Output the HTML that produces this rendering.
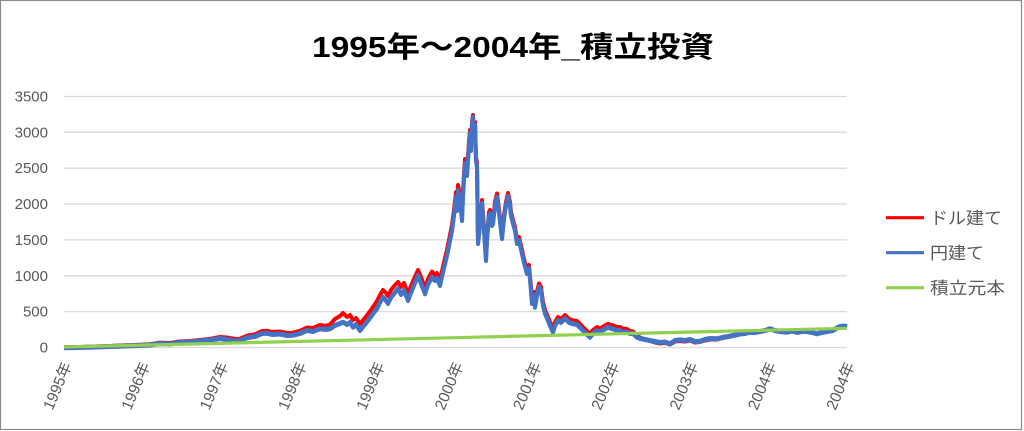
<!DOCTYPE html>
<html><head><meta charset="utf-8"><style>
html,body{margin:0;padding:0;background:#fff;}
svg{display:block;}
text{font-family:"Liberation Sans","Noto Sans CJK JP",sans-serif;}
</style></head><body>
<svg width="1024" height="431" viewBox="0 0 1024 431" xmlns="http://www.w3.org/2000/svg">
<rect x="0" y="0" width="1024" height="431" fill="#fff"/>
<rect x="0.5" y="0.5" width="1021" height="429" fill="none" stroke="#8c8c8c" stroke-width="1.2"/>
<text x="312" y="57" font-size="29" font-weight="bold" fill="#000" textLength="402" lengthAdjust="spacingAndGlyphs">1995年～2004年_積立投資</text>
<g stroke="#d9d9d9" stroke-width="1.3">
<line x1="64" y1="96.5" x2="847" y2="96.5"/>
<line x1="64" y1="132.3" x2="847" y2="132.3"/>
<line x1="64" y1="168.2" x2="847" y2="168.2"/>
<line x1="64" y1="204.1" x2="847" y2="204.1"/>
<line x1="64" y1="239.9" x2="847" y2="239.9"/>
<line x1="64" y1="275.8" x2="847" y2="275.8"/>
<line x1="64" y1="311.6" x2="847" y2="311.6"/>
<line x1="64" y1="347.5" x2="847" y2="347.5"/>
</g>
<g font-size="15" fill="#595959" text-anchor="end">
<text x="48" y="101.5">3500</text>
<text x="48" y="137.3">3000</text>
<text x="48" y="173.2">2500</text>
<text x="48" y="209.1">2000</text>
<text x="48" y="244.9">1500</text>
<text x="48" y="280.8">1000</text>
<text x="48" y="316.6">500</text>
<text x="48" y="352.5">0</text>
</g>
<g font-size="15.5" fill="#595959" text-anchor="end">
<text transform="translate(72,365) rotate(-67)">1995年</text>
<text transform="translate(150.3,365) rotate(-67)">1996年</text>
<text transform="translate(228.6,365) rotate(-67)">1997年</text>
<text transform="translate(306.9,365) rotate(-67)">1998年</text>
<text transform="translate(385.2,365) rotate(-67)">1999年</text>
<text transform="translate(463.5,365) rotate(-67)">2000年</text>
<text transform="translate(541.8,365) rotate(-67)">2001年</text>
<text transform="translate(620.1,365) rotate(-67)">2002年</text>
<text transform="translate(698.4,365) rotate(-67)">2003年</text>
<text transform="translate(776.7,365) rotate(-67)">2004年</text>
<text transform="translate(855,365) rotate(-67)">2004年</text>
</g>
<polyline fill="none" stroke="#ff0000" stroke-width="4" stroke-linejoin="round" points="64,347.3 80,347 95,346.5 110,346 125,345.3 140,344.7 150,344.2 160,342.6 170,343 180,341.5 190,341 200,340 210,338.8 220,337 227,337.5 235,339 240,338.7 248,335.3 255,334.3 262,331 267,330.7 272,332 280,331.5 287,333 293,332.7 300,330.8 307,327.5 313,328 320,325 326,325.8 330,324.5 335,319 340,316 343,313 347,317 350,315 353,320 356,318 360,324 364,319 368,314 373,307 377,301 380,295 383,290 386,293 388,296 391,290 395,285 398,282 401,287 404,283 408,294 411,286 414,279 418,270 421,277 425,288 428,279 432,271.5 435,275 437,273 440,280 442,271 445,258 447,250 450,235 452,225 454,210 456,192 457,205 458,185 460,195 462,215 463,190 465,159 467,171 469,141 470,130 471,146 472,122 473,115 474,132 475,122 476,157 477,163 478,240 480,222 482,200 484,227 486,257 487,237 489,212 490,210 492,222 493,220 495,202 497,193.5 499,209 501,227 502,235 504,215 506,202 508,193 510,202 511,212 513,220 515,227 517,240 519,237 522,250 524,259 527,270 529,265 531,287 532,300 534,292 535,303.5 537,292 539,283.5 541,287 543,302 545,310 548,317 550,322 553,328.7 555,322 558,317 561,319 565,315 569,319 573,320.3 577,321 580,324 583,327 586,330 590,334 593,330 597,327 600,328.7 604,326 608,323.7 611,325 613,325.3 617,327 620,327 623,328.7 627,329 630,331 633,331.5 637,335.5 640,337.5 645,339.5 650,341 655,342.5 660,343.5 665,343 670,344.5 675,341.5 680,341 685,341.5 690,340.5 695,342.5 700,342 705,340.5 710,339.5 717,339.5 722,338.2 728,337 733,336 740,334.3 745,333.8 750,332.5 755,332.7 760,331.7 765,330.7 770,329 775,330.7 780,331.6 787,332.2 792,331 797,332.4 802,331.4 807,331.4 812,332.4 817,333.6 822,332.3 827,331.3 833,330.2 836,328.2 840,326.2 844,325.7 847,326.2"/>
<g fill="none" stroke="#4472c4" stroke-width="4" stroke-linejoin="round">
<polyline id="bl" points="64,347.3 80,347 95,346.5 110,346 125,345.5 140,345 150,344.5 160,343 170,343.5 180,342 190,341.5 200,340.5 210,339.5 220,338 227,339 235,340.5 240,340 248,337 255,336 262,333 267,332.7 272,334 280,333.5 287,335 293,334.7 300,333 307,330 313,331 320,328.3 326,329 330,328.3 335,325 340,323 343,321.7 347,324 350,322 353,326.7 356,324 360,330 364,325 368,320 373,313.3 377,308 380,302 383,296.7 386,300 388,303 391,297 395,292 398,288.3 401,294 404,290 408,300 411,292 414,285 418,275 421,283 425,293.3 428,284 432,276.7 435,280 437,278 440,285 442,276 445,263.3 447,255 450,240 452,230 454,215 456,196.7 457,210 458,190 460,200 462,220 463,195 465,163 467,175 469,145 470,133 471,150 472,125 473,116.7 474,135 475,125 476,160 477,166.7 478,243 480,225 482,203 484,230 486,260 487,240 489,215 490,213 492,225 493,223 495,205 497,196.7 499,212 501,230 502,238 504,218 506,205 508,196 510,205 511,215 513,223 515,230 517,243 519,240 522,253 524,262 527,273 529,268 531,290 532,303 534,295 535,306.7 537,295 539,286.7 541,290 543,305 545,313 548,320 550,325 553,331.7 555,325 558,320 561,322 565,318 569,322 573,323.3 577,324 580,327 583,330 586,333 590,336.7 593,333 597,330 600,331.7 604,329 608,326.7 611,328 613,328.3 617,330 620,330 623,331.7 627,331.7 630,333 633,333 637,336.7 640,338 645,339 650,340 655,341 660,342 665,341.5 670,343.3 675,340 680,339.3 685,340 690,339 695,341 700,340.7 705,339 710,338 717,338.3 722,337 728,336 733,335 740,333.5 745,333 750,331.7 755,332 760,331 765,330 770,328.3 775,330 780,331 787,331.7 792,330.5 797,332 802,331 807,331 812,332 817,333.3 822,332 827,331 833,330 836,328 840,326 844,325.5 847,326"/>
<use href="#bl" transform="translate(0,1)"/>
</g>
<polyline fill="none" stroke="#92d050" stroke-width="3.2" points="64,347 150,345 250,342.6 350,340.2 450,337.8 550,335.4 650,333 750,330.6 847,328.3"/>
<g stroke-width="3.2">
<line x1="886" y1="217.7" x2="924" y2="217.7" stroke="#ff0000"/>
<line x1="886" y1="252.7" x2="924" y2="252.7" stroke="#4472c4"/>
<line x1="886" y1="287.7" x2="924" y2="287.7" stroke="#92d050"/>
</g>
<g font-size="17" fill="#595959">
<text x="930" y="224" textLength="72" lengthAdjust="spacingAndGlyphs">ドル建て</text>
<text x="930" y="259" textLength="54" lengthAdjust="spacingAndGlyphs">円建て</text>
<text x="930" y="294" textLength="75" lengthAdjust="spacingAndGlyphs">積立元本</text>
</g>
</svg>
</body></html>
